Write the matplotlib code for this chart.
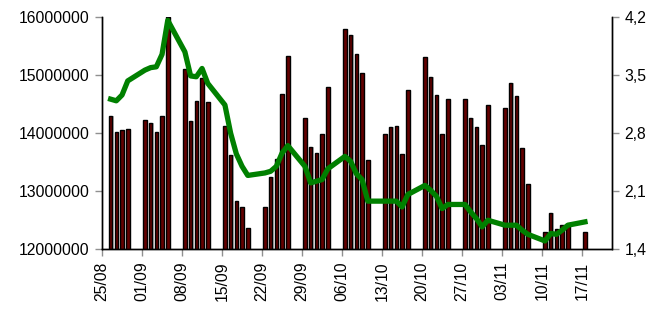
import datetime as dt
import matplotlib
matplotlib.use("Agg")
import matplotlib.pyplot as plt
import matplotlib.dates as mdates
from matplotlib.ticker import FuncFormatter

plt.rcParams['font.family'] = ['Liberation Sans', 'DejaVu Sans']

# trading days (2008)
days = ['26/08', '27/08', '28/08', '29/08',
        '01/09', '02/09', '03/09', '04/09', '05/09',
        '08/09', '09/09', '10/09', '11/09', '12/09',
        '15/09', '16/09', '17/09', '18/09', '19/09',
        '22/09', '23/09', '24/09', '25/09', '26/09',
        '29/09', '30/09', '01/10', '02/10', '03/10',
        '06/10', '07/10', '08/10', '09/10', '10/10',
        '13/10', '14/10', '15/10', '16/10', '17/10',
        '20/10', '21/10', '22/10', '23/10', '24/10',
        '27/10', '28/10', '29/10', '30/10', '31/10',
        '03/11', '04/11', '05/11', '06/11', '07/11',
        '10/11', '11/11', '12/11', '13/11', '14/11',
        '17/11']

# bar values (millions)
volume = [14.30, 14.02, 14.05, 14.07,
          14.22, 14.17, 14.02, 14.29, 16.00,
          15.10, 14.21, 14.56, 14.95, 14.54,
          14.12, 13.62, 12.83, 12.72, 12.37,
          12.72, 13.24, 13.55, 14.67, 15.33,
          14.26, 13.76, 13.65, 13.99, 14.80,
          15.79, 15.69, 15.37, 15.03, 13.53,
          13.99, 14.10, 14.13, 13.64, 14.74,
          15.32, 14.97, 14.65, 13.99, 14.59,
          14.59, 14.26, 14.10, 13.80, 14.48,
          14.43, 14.86, 14.64, 13.75, 13.13,
          12.30, 12.62, 12.35, 12.41, 12.41,
          12.29]

# green line (right axis)
rate = [3.21, 3.19, 3.26, 3.43,
        3.56, 3.59, 3.60, 3.75, 4.16,
        3.78, 3.49, 3.48, 3.58, 3.40,
        3.14, 2.80, 2.55, 2.40, 2.29,
        2.32, 2.34, 2.40, 2.56, 2.65,
        2.40, 2.20, 2.22, 2.24, 2.37,
        2.52, 2.46, 2.31, 2.24, 1.98,
        1.98, 1.98, 1.98, 1.91, 2.06,
        2.17, 2.11, 2.04, 1.89, 1.94,
        1.94, 1.85, 1.77, 1.67, 1.75,
        1.69, 1.69, 1.69, 1.63, 1.58,
        1.50, 1.59, 1.58, 1.63, 1.69,
        1.73]

left_ticks = [12000000, 13000000, 14000000, 15000000, 16000000]
right_ticks = [1.4, 2.1, 2.8, 3.5, 4.2]
week_labels = ['25/08', '01/09', '08/09', '15/09', '22/09', '29/09', '06/10',
               '13/10', '20/10', '27/10', '03/11', '10/11', '17/11']

to_num = lambda s: mdates.date2num(dt.datetime.strptime(s + '/2008', '%d/%m/%Y'))
x = [to_num(d) + 0.5 for d in days]
xt = [to_num(d) for d in week_labels]
vol = [v * 1e6 for v in volume]

fig = plt.figure(figsize=(6.54, 3.10), dpi=100)
ax = fig.add_axes([0.156, 0.196, 0.78, 0.749])

# shadow then bars
ax.bar([v + 0.22 for v in x], vol, width=0.62, color='#b8b8b8', zorder=1)
ax.bar(x, vol, width=0.62, color='#640000', edgecolor='black', linewidth=1.0, zorder=2)
ax.set_ylim(12000000, 16000000)
ax.set_yticks(left_ticks)
ax.set_yticklabels([str(t) for t in left_ticks])
ax.set_xlim(xt[0], xt[0] + 89.25)
ax.set_xticks(xt)
ax.set_xticklabels(week_labels, rotation=90)

ax2 = ax.twinx()
ax2.plot(x, rate, color='#008000', linewidth=3.8, solid_joinstyle='round', zorder=3)
ax2.set_ylim(1.4, 4.2)
ax2.set_yticks(right_ticks)
ax2.yaxis.set_major_formatter(FuncFormatter(lambda v, p: ('%.1f' % v).replace('.', ',')))

for a in (ax, ax2):
    a.spines['top'].set_visible(False)
    for s in ('left', 'right', 'bottom'):
        a.spines[s].set_color('black')
        a.spines[s].set_linewidth(1.0)
    a.tick_params(axis='both', direction='out', length=5, width=1, color='#909090',
                  labelsize=11.3, labelcolor='black', pad=4)

fig.savefig('out.png', dpi=100)
